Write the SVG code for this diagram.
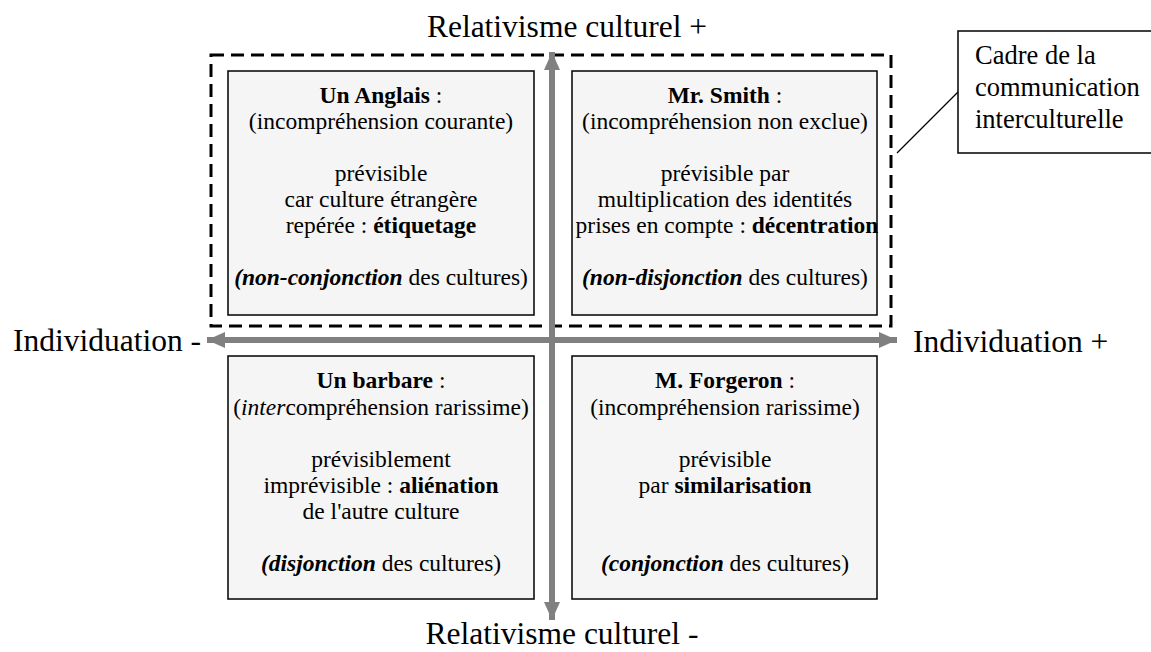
<svg xmlns="http://www.w3.org/2000/svg" width="1151" height="652" viewBox="0 0 1151 652">
<defs>
<style>
text{font-family:"Liberation Serif","Times New Roman",serif;fill:#000}
.box{fill:#f5f5f5;stroke:#000;stroke-width:1.5}
.bt{font-size:23.5px;text-anchor:middle}
.ax{font-size:31.5px}
.b{font-weight:bold}
.i{font-style:italic}
.bi{font-weight:bold;font-style:italic}
.arrow{stroke:#808080;stroke-width:6;fill:none}
</style>
<marker id="ah" markerUnits="userSpaceOnUse" markerWidth="20" markerHeight="18" refX="18" refY="8" orient="auto">
<path d="M0,0 L18,8 L0,16 Z" fill="#808080"/>
</marker>
</defs>
<rect width="1151" height="652" fill="#fff"/>
<g id="frame">
<rect x="211" y="55" width="680" height="271" fill="none" stroke="#000" stroke-width="3" stroke-dasharray="13 7"/>
</g>
<g id="connectors">
<line class="arrow" x1="552" y1="340" x2="552" y2="52" marker-end="url(#ah)"/>
<line class="arrow" x1="552" y1="340" x2="552" y2="620" marker-end="url(#ah)"/>
<line class="arrow" x1="552" y1="340" x2="207" y2="340" marker-end="url(#ah)"/>
<line class="arrow" x1="552" y1="340" x2="897" y2="340" marker-end="url(#ah)"/>
<line x1="897" y1="153" x2="958" y2="92" stroke="#000" stroke-width="1.2"/>
</g>
<g id="axis-labels">
<text class="ax" x="567" y="37" text-anchor="middle">Relativisme culturel +</text>
<text class="ax" x="562" y="644" text-anchor="middle">Relativisme culturel -</text>
<text class="ax" x="13" y="351">Individuation -</text>
<text class="ax" x="913" y="352">Individuation +</text>
</g>
<g id="callout">
<rect x="958" y="31" width="210" height="122" fill="#fff" stroke="#000" stroke-width="1.5"/>
<text x="975" y="64" style="font-size:26.5px">Cadre de la</text>
<text x="975" y="96" style="font-size:26.5px">communication</text>
<text x="975" y="128" style="font-size:26.5px">interculturelle</text>
</g>
<g id="node-anglais">
<rect class="box" x="228" y="71" width="306" height="244"/>
<text class="bt" x="381" y="103"><tspan class="b">Un Anglais</tspan> :</text>
<text class="bt" x="381" y="129">(incompréhension courante)</text>
<text class="bt" x="381" y="181">prévisible</text>
<text class="bt" x="381" y="207">car culture étrangère</text>
<text class="bt" x="381" y="233">repérée : <tspan class="b">étiquetage</tspan></text>
<text class="bt" x="381" y="285"><tspan class="bi">(non-conjonction</tspan> des cultures)</text>
</g>
<g id="node-smith">
<rect class="box" x="572" y="71" width="305" height="244"/>
<text class="bt" x="725" y="103"><tspan class="b">Mr. Smith</tspan> :</text>
<text class="bt" x="725" y="129">(incompréhension non exclue)</text>
<text class="bt" x="725" y="181">prévisible par</text>
<text class="bt" x="725" y="207">multiplication des identités</text>
<text class="bt" x="727" y="233">prises en compte : <tspan class="b">décentration</tspan></text>
<text class="bt" x="725" y="285"><tspan class="bi">(non-disjonction</tspan> des cultures)</text>
</g>
<g id="node-barbare">
<rect class="box" x="228" y="356" width="306" height="243"/>
<text class="bt" x="381" y="388"><tspan class="b">Un barbare</tspan> :</text>
<text class="bt" x="381" y="415">(<tspan class="i">inter</tspan>compréhension rarissime)</text>
<text class="bt" x="381" y="467">prévisiblement</text>
<text class="bt" x="381" y="493">imprévisible : <tspan class="b">aliénation</tspan></text>
<text class="bt" x="381" y="519">de l'autre culture</text>
<text class="bt" x="381" y="571"><tspan class="bi">(disjonction</tspan> des cultures)</text>
</g>
<g id="node-forgeron">
<rect class="box" x="572" y="356" width="305" height="243"/>
<text class="bt" x="725" y="388"><tspan class="b">M. Forgeron</tspan> :</text>
<text class="bt" x="725" y="415">(incompréhension rarissime)</text>
<text class="bt" x="725" y="467">prévisible</text>
<text class="bt" x="725" y="493">par <tspan class="b">similarisation</tspan></text>
<text class="bt" x="725" y="571"><tspan class="bi">(conjonction</tspan> des cultures)</text>
</g>
</svg>
